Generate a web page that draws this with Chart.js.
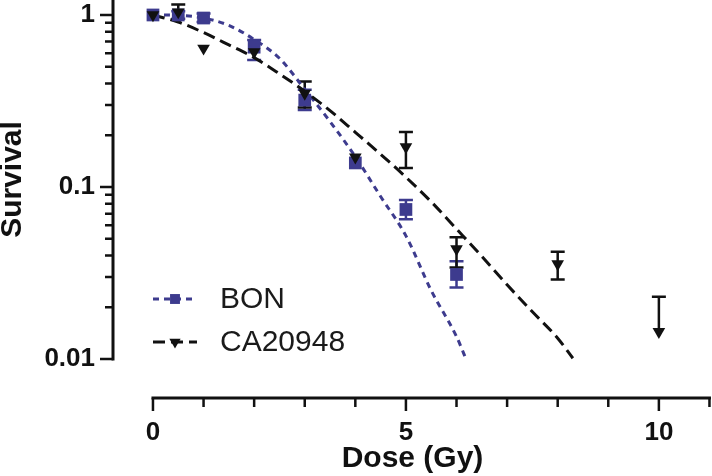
<!DOCTYPE html>
<html lang="en">
<head>
<meta charset="UTF-8">
<title>Survival vs dose</title>
<style>
  html, body { margin: 0; padding: 0; background: #fff; }
  canvas { display: block; }
</style>
</head>
<body>
<canvas id="myChart" width="712" height="476"></canvas>

<script src="https://cdn.jsdelivr.net/npm/chart.js@4.4.1/dist/chart.umd.min.js"></script>
<script>
// measured points (mean, upper and lower end of the error bar)
var bonDose = [0, 0.5, 1, 2, 3, 4, 5, 6];
var bonSurvival = [1.0, 1.0, 0.96, 0.65, 0.32, 0.138, 0.074, 0.031];
var bonHigh = [null, 1.05, 1.02, 0.716, 0.367, null, 0.084, 0.037];
var bonLow = [null, 0.95, 0.91, 0.548, 0.28, null, 0.065, 0.026];

var caDose = [0, 0.5, 1, 2, 3, 4, 5, 6, 8, 10];
var caSurvival = [1.0, 1.04, 0.64, 0.61, 0.35, 0.149, 0.171, 0.0436, 0.0357, 0.0144];
var caHigh = [null, 1.15, null, null, 0.41, null, 0.209, 0.051, 0.042, 0.023];
var caLow = [null, null, null, null, 0.29, null, 0.129, 0.034, 0.029, null];

// fitted curves
var bonFitDose = [0, 0.5, 1, 1.5, 2, 2.5, 3, 3.5, 4, 4.5, 5, 5.5, 6, 6.2];
var bonFit = [1.0, 0.995, 0.96, 0.87, 0.72, 0.56, 0.37, 0.24, 0.15, 0.088, 0.052, 0.025, 0.0135, 0.0098];
var caFitDose = [0, 0.5, 1, 1.5, 2, 2.5, 3, 3.5, 4, 4.5, 5, 5.5, 6, 6.5, 7, 7.5, 8, 8.3];
var caFit = [1.0, 0.91, 0.79, 0.67, 0.565, 0.455, 0.36, 0.278, 0.208, 0.155, 0.114, 0.082, 0.057, 0.0395, 0.027, 0.0188, 0.0132, 0.0101];

// ticks
var xTicks = [0, 1, 2, 3, 4, 5, 6, 7, 8, 9, 10, 11];
var xLabelled = [0, 5, 10];
var yTicks = [0.01, 0.02, 0.03, 0.04, 0.05, 0.06, 0.07, 0.08, 0.09,
              0.1, 0.2, 0.3, 0.4, 0.5, 0.6, 0.7, 0.8, 0.9, 1];
var yLabelled = [0.01, 0.1, 1];

var seriesNames = ['BON', 'CA20948'];

var BLUE = '#3d3b8e';
var BLACK = '#111111';
var FONT = '"Liberation Sans", Arial, sans-serif';

function pts(xs, ys) {
    return xs.map(function (v, i) { return {x: v, y: ys[i]}; });
}

function noPadding(scale) {
    scale.paddingLeft = 0;
    scale.paddingRight = 0;
    scale.paddingTop = 0;
    scale.paddingBottom = 0;
}

// error bars, behind the markers
var errorBars = {
    id: 'errorBars',
    beforeDatasetsDraw: function (chart) {
        var ctx = chart.ctx, x = chart.scales.x, y = chart.scales.y;
        function bars(dose, mean, hi, lo, color) {
            ctx.strokeStyle = color;
            ctx.lineWidth = 2.5;
            dose.forEach(function (d, i) {
                var px = x.getPixelForValue(d);
                var py = y.getPixelForValue(mean[i]);
                [hi[i], lo[i]].forEach(function (e) {
                    if (e == null) return;
                    var pe = y.getPixelForValue(e);
                    ctx.beginPath();
                    ctx.moveTo(px, py); ctx.lineTo(px, pe);
                    ctx.moveTo(px - 7, pe); ctx.lineTo(px + 7, pe);
                    ctx.stroke();
                });
            });
        }
        ctx.save();
        bars(bonDose, bonSurvival, bonHigh, bonLow, BLUE);
        bars(caDose, caSurvival, caHigh, caLow, BLACK);
        ctx.restore();
    }
};

// offset axes + tick marks (Prism style) and the legend
var prismAxes = {
    id: 'prismAxes',
    afterDraw: function (chart) {
        var ctx = chart.ctx, x = chart.scales.x, y = chart.scales.y, area = chart.chartArea;
        var yBottom = y.getPixelForValue(yTicks[0]);
        var xAxisY = yBottom + 39;
        ctx.save();
        ctx.strokeStyle = BLACK;
        ctx.lineCap = 'butt';

        ctx.lineWidth = 3;
        ctx.beginPath();
        ctx.moveTo(area.left, area.top);
        ctx.lineTo(area.left, yBottom + 1.5);
        ctx.moveTo(x.getPixelForValue(xTicks[0]) - 1.5, xAxisY);
        ctx.lineTo(x.getPixelForValue(xTicks[xTicks.length - 1]) + 1.5, xAxisY);
        ctx.stroke();

        ctx.lineWidth = 2.5;
        ctx.beginPath();
        y.ticks.forEach(function (t) {
            var py = y.getPixelForValue(t.value);
            var len = yLabelled.indexOf(t.value) >= 0 ? 13 : 8;
            ctx.moveTo(area.left, py);
            ctx.lineTo(area.left - len, py);
        });
        x.ticks.forEach(function (t) {
            var px = x.getPixelForValue(t.value);
            var len = xLabelled.indexOf(t.value) >= 0 ? 13 : 9;
            ctx.moveTo(px, xAxisY);
            ctx.lineTo(px, xAxisY + len);
        });
        ctx.stroke();

        // legend
        var rows = [
            {name: seriesNames[0], color: BLUE, dash: [6, 5], style: 'rect', y: 299},
            {name: seriesNames[1], color: BLACK, dash: [12, 6], style: 'triangle', y: 342}
        ];
        rows.forEach(function (r) {
            ctx.strokeStyle = r.color;
            ctx.lineWidth = 3;
            ctx.setLineDash(r.dash);
            ctx.beginPath();
            ctx.moveTo(153, r.y);
            ctx.lineTo(197, r.y);
            ctx.stroke();
            ctx.setLineDash([]);
            ctx.fillStyle = r.color;
            Chart.helpers.drawPoint(ctx, {
                pointStyle: r.style,
                rotation: r.style === 'triangle' ? 180 : 0,
                radius: r.style === 'triangle' ? 6.5 : 7,
                borderWidth: 0
            }, 175, r.y);
            ctx.fillStyle = '#1a1a1a';
            ctx.font = '30px ' + FONT;
            ctx.textBaseline = 'middle';
            ctx.textAlign = 'left';
            ctx.fillText(r.name, 220, r.y + 1);
        });
        ctx.restore();
    }
};

new Chart(document.getElementById('myChart'), {
    type: 'scatter',
    data: {
        datasets: [
            {
                label: seriesNames[1],
                data: pts(caDose, caSurvival),
                pointStyle: 'triangle',
                rotation: 180,
                radius: 7.3,
                backgroundColor: BLACK,
                borderColor: BLACK,
                borderWidth: 0,
                order: 0
            },
            {
                label: seriesNames[0],
                data: pts(bonDose, bonSurvival),
                pointStyle: 'rect',
                radius: 9,
                backgroundColor: BLUE,
                borderColor: BLUE,
                borderWidth: 0,
                order: 1
            },
            {
                label: seriesNames[1] + ' fit',
                type: 'line',
                data: pts(caFitDose, caFit),
                borderColor: BLACK,
                borderWidth: 3,
                borderDash: [12, 6],
                pointRadius: 0,
                cubicInterpolationMode: 'monotone',
                fill: false,
                clip: false,
                order: 2
            },
            {
                label: seriesNames[0] + ' fit',
                type: 'line',
                data: pts(bonFitDose, bonFit),
                borderColor: BLUE,
                borderWidth: 3,
                borderDash: [6, 5],
                pointRadius: 0,
                cubicInterpolationMode: 'monotone',
                fill: false,
                clip: false,
                order: 3
            }
        ]
    },
    options: {
        responsive: false,
        animation: false,
        layout: { padding: 0, autoPadding: false },
        plugins: {
            legend: { display: false },
            tooltip: { enabled: false }
        },
        scales: {
            x: {
                type: 'linear',
                min: -0.79,
                max: 11.05,
                grid: { display: false, drawTicks: false },
                border: { display: false },
                afterBuildTicks: function (scale) {
                    scale.ticks = xTicks.map(function (v) { return {value: v}; });
                },
                afterFit: function (scale) { scale.height = 117; noPadding(scale); },
                ticks: {
                    autoSkip: false,
                    maxRotation: 0,
                    padding: 58,
                    color: '#111',
                    font: { family: FONT, size: 26, weight: 'bold' },
                    callback: function (v) { return xLabelled.indexOf(v) >= 0 ? String(v) : ''; }
                },
                title: {
                    display: true,
                    text: 'Dose (Gy)',
                    color: '#111',
                    font: { family: FONT, size: 30, weight: 'bold', lineHeight: 1 },
                    padding: { top: 0, bottom: 2 }
                }
            },
            y: {
                type: 'logarithmic',
                min: 0.01,
                max: 1.222,
                grid: { display: false, drawTicks: false },
                border: { display: false },
                afterBuildTicks: function (scale) {
                    scale.ticks = yTicks.map(function (v) { return {value: v}; });
                },
                afterFit: function (scale) { scale.width = 113; noPadding(scale); },
                ticks: {
                    autoSkip: false,
                    padding: 18,
                    color: '#111',
                    font: { family: FONT, size: 26, weight: 'bold' },
                    callback: function (v) { return yLabelled.indexOf(v) >= 0 ? String(v) : ''; }
                },
                title: {
                    display: true,
                    text: 'Survival',
                    color: '#111',
                    font: { family: FONT, size: 30, weight: 'bold', lineHeight: 1 },
                    padding: { top: -2, bottom: 0 }
                }
            }
        }
    },
    plugins: [errorBars, prismAxes]
});
</script>
</body>
</html>
